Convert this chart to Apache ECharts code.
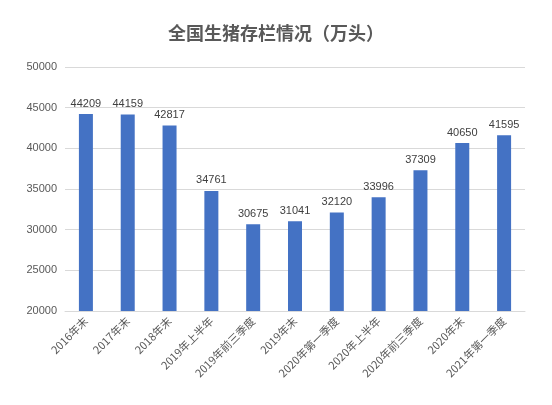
<!DOCTYPE html>
<html><head><meta charset="utf-8">
<script src="https://cdn.jsdelivr.net/npm/echarts@6/dist/echarts.min.js"></script>
<style>html,body{margin:0;padding:0;background:#fff}#c{width:552px;height:405px}</style>
</head><body><div id="c"></div>
<script>
const categories = ["2016年末","2017年末","2018年末","2019年上半年","2019年前三季度","2019年末","2020年第一季度","2020年上半年","2020年前三季度","2020年末","2021年第一季度"];
const values = [44209,44159,42817,34761,30675,31041,32120,33996,37309,40650,41595];
const chart = echarts.init(document.getElementById('c'));
chart.setOption({
  animation:false,
  title:{text:'全国生猪存栏情况（万头）',left:'center',top:19,textStyle:{fontFamily:'Noto Sans CJK SC',fontSize:18,fontWeight:'bold',color:'#595959'}},
  grid:{left:65,right:27,top:67,bottom:94},
  xAxis:{type:'category',data:categories,axisLine:{lineStyle:{color:'#d9d9d9'}},axisTick:{show:false},
    axisLabel:{rotate:45,interval:0,color:'#595959',fontSize:11,fontFamily:'Noto Sans CJK SC'}},
  yAxis:{type:'value',min:20000,max:50000,interval:5000,axisLine:{show:false},axisTick:{show:false},
    splitLine:{lineStyle:{color:'#d9d9d9'}},axisLabel:{color:'#595959',fontSize:11,fontFamily:'Liberation Sans',formatter:v=>String(v)}},
  series:[{type:'bar',data:values,barWidth:14,itemStyle:{color:'#4472C4'},
    label:{show:true,position:'top',color:'#404040',fontSize:11,fontFamily:'Liberation Sans'}}]
});
</script></body></html>
